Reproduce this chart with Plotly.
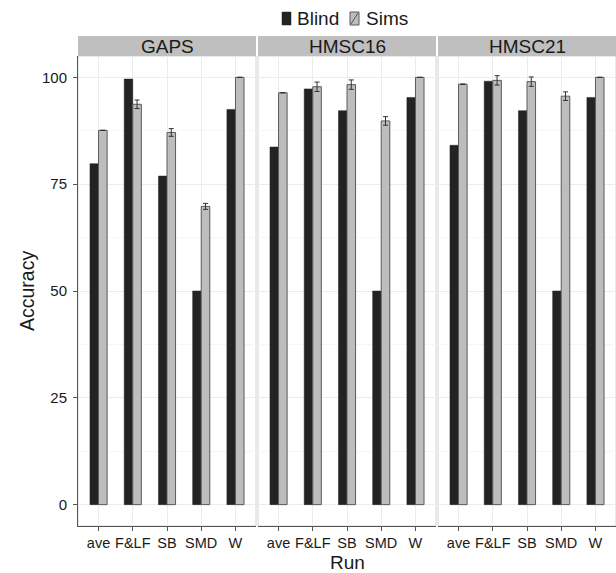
import plotly.graph_objects as go

runs = ["ave", "F&LF", "SB", "SMD", "W"]
panels = ["GAPS", "HMSC16", "HMSC21"]

gaps_blind = [79.8, 99.6, 76.9, 50.0, 92.5]
gaps_sims = [87.6, 93.7, 87.1, 69.8, 100.0]
gaps_sims_err = [None, 1.0, 0.9, 0.7, None]

hmsc16_blind = [83.7, 97.3, 92.2, 50.0, 95.3]
hmsc16_sims = [96.4, 97.8, 98.3, 89.8, 100.0]
hmsc16_sims_err = [None, 1.1, 1.1, 1.0, None]

hmsc21_blind = [84.1, 99.1, 92.2, 50.0, 95.3]
hmsc21_sims = [98.4, 99.3, 99.0, 95.6, 100.0]
hmsc21_sims_err = [None, 1.1, 1.1, 1.0, None]

series_names = ["Blind", "Sims"]

blind_vals = [gaps_blind, hmsc16_blind, hmsc21_blind]
sims_vals = [gaps_sims, hmsc16_sims, hmsc21_sims]
sims_errs = [gaps_sims_err, hmsc16_sims_err, hmsc21_sims_err]

W, H = 616, 573
ML, MR, MT, MB = 78, 0, 36, 47
PW = W - ML - MR
PH = H - MT - MB
panel_px = [(0, 178), (180, 358), (360, 538)]
ytop = 470 / PH

FONT = "Liberation Sans, Arial, sans-serif"
BLACK = "#232323"
GREY = "#bdbdbd"
EDGE = "#5a5a5a"

fig = go.Figure()
for i, p in enumerate(panels):
    xa = "x" if i == 0 else f"x{i+1}"
    ya = "y" if i == 0 else f"y{i+1}"
    fig.add_trace(go.Bar(
        x=runs, y=blind_vals[i], name=series_names[0], legendgroup="Blind",
        showlegend=False, xaxis=xa, yaxis=ya, offsetgroup="b",
        marker=dict(color=BLACK, line=dict(color=BLACK, width=0.5)),
    ))
    fig.add_trace(go.Bar(
        x=runs, y=sims_vals[i], name=series_names[1], legendgroup="Sims",
        showlegend=False, xaxis=xa, yaxis=ya, offsetgroup="s",
        marker=dict(color=GREY, line=dict(color=EDGE, width=1)),
        error_y=dict(type="data", array=sims_errs[i], visible=True,
                     color="#333333", thickness=1, width=2.5),
    ))

layout = dict(
    width=W, height=H,
    margin=dict(l=ML, r=MR, t=MT, b=MB),
    paper_bgcolor="white", plot_bgcolor="white",
    barmode="group", bargap=0.5, bargroupgap=0,
    font=dict(family=FONT, color="#1a1a1a"),
    showlegend=False,
)

def px_x(px):
    return (px - ML) / PW

def px_y(py):
    return (MT + PH - py) / PH

shapes = []
annotations = []
for i, p in enumerate(panels):
    x0, x1 = panel_px[i][0] / PW, panel_px[i][1] / PW
    key = "" if i == 0 else str(i + 1)
    layout["xaxis" + key] = dict(
        domain=[x0, x1], anchor="y" + key, type="category",
        categoryorder="array", categoryarray=runs, range=[-0.6, 4.6],
        showgrid=True, gridcolor="#ececec", gridwidth=1,
        showline=True, linecolor="#555555", linewidth=1,
        ticks="outside", ticklen=4, tickcolor="#555555",
        tickfont=dict(size=14.5, family=FONT, color="#1a1a1a"),
        zeroline=False, fixedrange=True,
    )
    layout["yaxis" + key] = dict(
        domain=[0, ytop], anchor="x" + key, range=[-5, 105],
        tickvals=[0, 25, 50, 75, 100],
        showgrid=True, gridcolor="#ececec", gridwidth=1,
        minor=dict(tickvals=[12.5, 37.5, 62.5, 87.5], showgrid=True, gridcolor="#f6f6f6"),
        showline=(i == 0), linecolor="#555555", linewidth=1,
        ticks="outside" if i == 0 else "", ticklen=4, tickcolor="#555555",
        showticklabels=(i == 0), ticklabelstandoff=3,
        tickfont=dict(size=15, family=FONT, color="#1a1a1a"),
        zeroline=False, fixedrange=True,
    )
    if i > 0:
        layout["yaxis" + key]["matches"] = "y"
    shapes.append(dict(type="rect", xref="paper", yref="paper",
                       x0=x0, x1=x1, y0=0, y1=ytop,
                       line=dict(color="#d4d4d4", width=1), layer="below"))
    shapes.append(dict(type="rect", xref="paper", yref="paper",
                       x0=x0, x1=x1, y0=ytop, y1=1,
                       fillcolor="#bfbfbf", line=dict(width=0), layer="above"))
    annotations.append(dict(text=p, xref="paper", yref="paper",
                            x=(x0 + x1) / 2, y=(ytop + 1) / 2,
                            xanchor="center", yanchor="middle", showarrow=False,
                            font=dict(size=19, family=FONT, color="#1a1a1a")))

# legend (drawn in the top margin)
shapes.append(dict(type="rect", xref="paper", yref="paper",
                   x0=px_x(282), x1=px_x(291), y0=px_y(25), y1=px_y(12),
                   fillcolor=BLACK, line=dict(color=BLACK, width=0.5)))
shapes.append(dict(type="rect", xref="paper", yref="paper",
                   x0=px_x(350), x1=px_x(359), y0=px_y(25), y1=px_y(12),
                   fillcolor=GREY, line=dict(color=EDGE, width=1)))
shapes.append(dict(type="line", xref="paper", yref="paper",
                   x0=px_x(351), x1=px_x(358), y0=px_y(24), y1=px_y(13),
                   line=dict(color="#555555", width=1)))
annotations.append(dict(text=series_names[0], xref="paper", yref="paper",
                        x=px_x(295), y=px_y(18.5), xanchor="left", yanchor="middle",
                        showarrow=False,
                        font=dict(size=19, family=FONT, color="#1a1a1a")))
annotations.append(dict(text=series_names[1], xref="paper", yref="paper",
                        x=px_x(364), y=px_y(18.5), xanchor="left", yanchor="middle",
                        showarrow=False,
                        font=dict(size=19, family=FONT, color="#1a1a1a")))

annotations.append(dict(text="Accuracy", xref="paper", yref="paper",
                        x=px_x(27), y=px_y(291),
                        xanchor="center", yanchor="middle", textangle=-90,
                        showarrow=False,
                        font=dict(size=19.5, family=FONT, color="#1a1a1a")))
annotations.append(dict(text="Run", xref="paper", yref="paper",
                        x=px_x(347), y=px_y(562.5),
                        xanchor="center", yanchor="middle", showarrow=False,
                        borderpad=0,
                        font=dict(size=19, family=FONT, color="#1a1a1a")))

layout["shapes"] = shapes
layout["annotations"] = annotations
fig.update_layout(**layout)
fig.write_html("out.html", config={"displayModeBar": False},
               post_script="document.body.style.margin='0';document.body.style.overflow='hidden';")
